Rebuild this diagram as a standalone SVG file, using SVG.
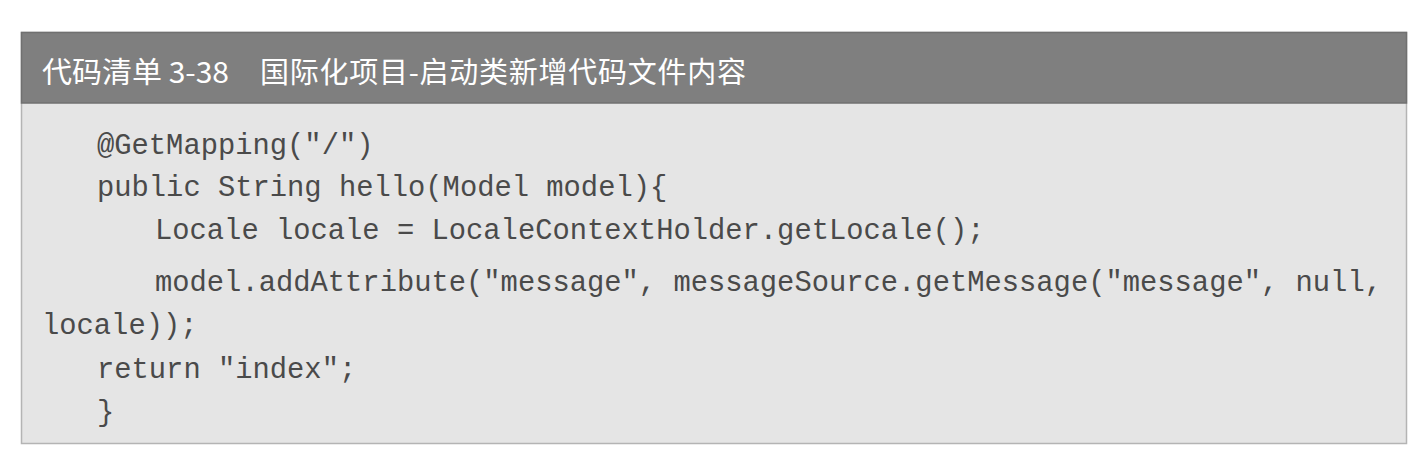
<svg xmlns="http://www.w3.org/2000/svg" width="1426" height="467" viewBox="0 0 1426 467">
<style>
.code{font-family:"Liberation Mono","Courier New",monospace;font-size:28.8px;fill:#4a4a4a;}
.title{font-family:"Noto Sans CJK SC","Noto Sans",sans-serif;font-size:29px;fill:#ffffff;}
</style>
<rect x="0" y="0" width="1426" height="467" fill="#ffffff"/>
<g id="listing">
<rect x="21.5" y="32.5" width="1385" height="411" fill="#e5e5e5" stroke="#b4b4b4" stroke-width="1.5"/>
<rect x="21.5" y="32.5" width="1385" height="70.5" fill="#7f7f7f" stroke="#707070" stroke-width="1.5"/>
</g>
<g id="title">
<text class="title" x="42" y="83" textLength="187" lengthAdjust="spacingAndGlyphs">代码清单 3-38</text>
<text class="title" x="260" y="83" textLength="486" lengthAdjust="spacing">国际化项目-启动类新增代码文件内容</text>
</g>
<g id="code">
<text class="code" x="97" y="154">@GetMapping("/")</text>
<text class="code" x="97" y="196">public String hello(Model model){</text>
<text class="code" x="155" y="239">Locale locale = LocaleContextHolder.getLocale();</text>
<text class="code" x="155" y="291">model.addAttribute("message", messageSource.getMessage("message", null,</text>
<text class="code" x="42" y="334">locale));</text>
<text class="code" x="97" y="378">return "index";</text>
<text class="code" x="97" y="421">}</text>
</g>
<g id="connectors"></g>
</svg>
